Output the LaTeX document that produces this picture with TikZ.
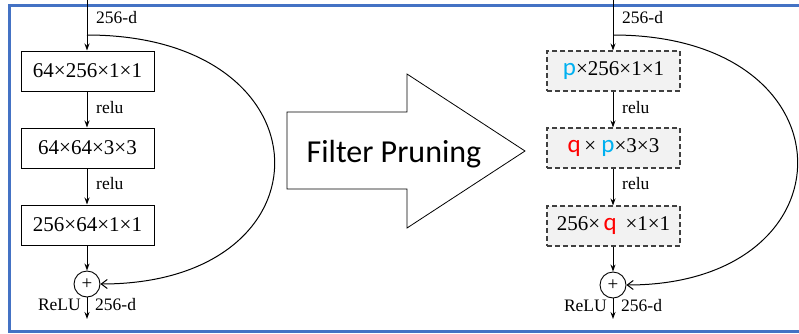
\documentclass[tikz,border=0pt]{standalone}
\usepackage{fontspec}
\setmainfont{Liberation Serif}
\newfontfamily\calfont{Carlito}
\usetikzlibrary{arrows.meta}
\definecolor{frameblue}{RGB}{68,114,196}
\definecolor{pblue}{RGB}{0,176,240}
\definecolor{qred}{RGB}{255,0,0}
\definecolor{boxgray}{RGB}{242,242,242}
\definecolor{dashgray}{RGB}{64,64,64}
\tikzset{
  layer/.style={draw=black, line width=1pt, minimum width=133pt, minimum height=40pt, inner sep=0pt, font=\fontsize{21}{24}\selectfont},
  prunedlayer/.style={draw=dashgray, fill=boxgray, dash pattern=on 5pt off 3pt, line width=1.1pt, minimum width=133pt, minimum height=40pt, inner sep=0pt, font=\fontsize{21}{24}\selectfont},
  sumnode/.style={draw=black, circle, line width=0.9pt, minimum size=26pt, inner sep=0pt, font=\fontsize{19}{19}\selectfont},
  lbl/.style={inner sep=0pt, font=\fontsize{17.5}{18}\selectfont},
  flow/.style={line width=1pt, -{Stealth[length=7pt,width=5pt]}},
  skip/.style={line width=1pt, -{Straight Barb[length=6pt,width=9pt]}},
}
\newcommand{\pp}{{\calfont\fontsize{25}{25}\selectfont\color{pblue}p}}
\newcommand{\qq}{{\calfont\fontsize{25}{25}\selectfont\color{qred}q}}
\begin{document}
\begin{tikzpicture}[x=1pt,y=-1pt]
\useasboundingbox (0,0) rectangle (799,333);
\clip (0,0) rectangle (799,333);
\fill[white] (0,0) rectangle (799,333);
\draw[frameblue, line width=3pt] (9.5,5) rectangle (830,331.5);

% ---------- left block ----------
\coordinate (ltop) at (87,0);
\coordinate (lsplit) at (87,35);
\node[layer] (l1) at (87.5,71) {64×256×1×1};
\node[layer] (l2) at (87.5,148) {64×64×3×3};
\node[layer] (l3) at (87.5,225) {256×64×1×1};
\node[sumnode] (lsum) at (87,284) {+};
\coordinate (lout) at (87,319);
\draw[flow] (ltop) -- (l1.north -| ltop);
\draw[flow] (l1.south -| ltop) -- (l2.north -| ltop);
\draw[flow] (l2.south -| ltop) -- (l3.north -| ltop);
\draw[flow] (l3.south -| ltop) -- (lsum.north);
\draw[flow] (lsum.south) -- (lout);
\draw[skip] (lsplit) .. controls +(246,0) and +(236,0) .. (lsum.east);
\node[lbl, anchor=west] (lin) at (96,18) {256-d};
\node[lbl, anchor=west] (lr1) at (96,108) {relu};
\node[lbl, anchor=west] (lr2) at (96,184) {relu};
\node[lbl, anchor=east] (lrelu) at (81,305) {ReLU};
\node[lbl, anchor=west] (lod) at (95,305) {256-d};

% ---------- arrow ----------
\draw[black, line width=0.8pt, fill=white] (287,112) -- (407,112) -- (407,74) -- (525,151) -- (407,228) -- (407,189) -- (287,189) -- cycle;
\node[inner sep=0pt, anchor=base, font=\calfont\fontsize{32}{32}\selectfont] (fp) at (394,162) {Filter Pruning};

% ---------- right block ----------
\coordinate (rtop) at (613,0);
\coordinate (rsplit) at (613,35);
\node[prunedlayer] (r1) at (613.5,71) {\pp×256×1×1};
\node[prunedlayer] (r2) at (613.5,148) {\qq\,× \pp×3×3};
\node[prunedlayer] (r3) at (613.5,226) {256×\,\qq\, ×1×1};
\node[sumnode] (rsum) at (613,285) {+};
\coordinate (rout) at (613,319);
\draw[flow] (rtop) -- (r1.north -| rtop);
\draw[flow] (r1.south -| rtop) -- (r2.north -| rtop);
\draw[flow] (r2.south -| rtop) -- (r3.north -| rtop);
\draw[flow] (r3.south -| rtop) -- (rsum.north);
\draw[flow] (rsum.south) -- (rout);
\draw[skip] (rsplit) .. controls +(244,0) and +(230,0) .. (rsum.east);
\node[lbl, anchor=west] (rin) at (622,18) {256-d};
\node[lbl, anchor=west] (rr1) at (622,108) {relu};
\node[lbl, anchor=west] (rr2) at (622,184) {relu};
\node[lbl, anchor=east] (rrelu) at (607,306) {ReLU};
\node[lbl, anchor=west] (rod) at (621,306) {256-d};
\end{tikzpicture}
\end{document}
